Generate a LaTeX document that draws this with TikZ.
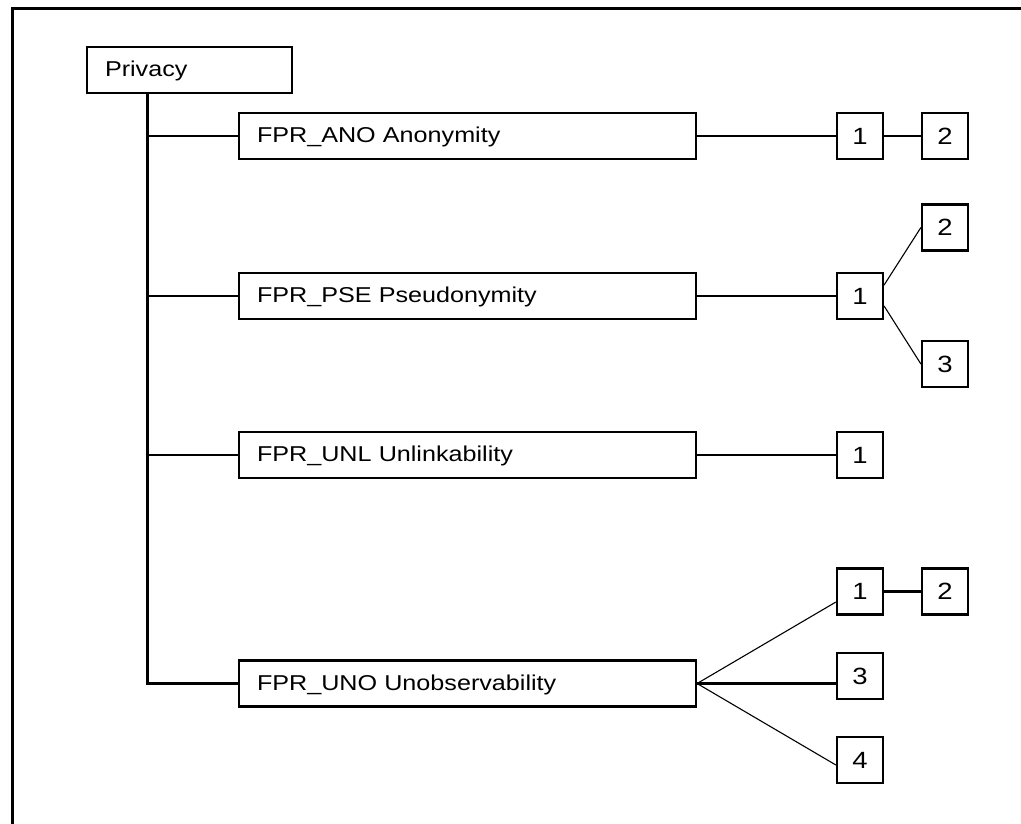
\documentclass[tikz,border=0pt]{standalone}
\usepackage{fontspec}
\setmainfont{Liberation Sans}[FakeStretch=1.17]
\begin{document}
\begin{tikzpicture}[x=1pt,y=-1pt,
  every node/.style={font=\fontsize{21.5}{24}\selectfont},
  bigbox/.style={draw,line width=2.2pt,minimum height=46pt,text width=421pt,text height=13.4pt,text depth=0pt,inner xsep=18pt,inner ysep=0pt,align=left,anchor=center},
  topbox/.style={draw,line width=2.2pt,minimum height=46pt,text width=169pt,text height=13.4pt,text depth=0pt,inner xsep=18pt,inner ysep=0pt,align=left,anchor=center},
  numbox/.style={draw,line width=2.2pt,minimum width=46pt,minimum height=46pt,inner sep=0pt,anchor=center,font=\fontsize{23.5}{26}\selectfont},
  conn/.style={line width=2.2pt},
  thin/.style={line width=1.1pt},
  trunk/.style={line width=3pt}]
\useasboundingbox (0,0) rectangle (1021,823);
\clip (0,0) rectangle (1021,823);
% frame (top and left only)
\draw[line width=3pt] (1030,8.5) -- (12,8.5) -- (12,830);
% root
\node[topbox] (priv) at (189.5,70) {Privacy};
% families
\node[bigbox] (ano) at (467.5,136) {FPR\_ANO Anonymity};
\node[bigbox] (pse) at (467.5,296) {FPR\_PSE Pseudonymity};
\node[bigbox] (unl) at (467.5,455) {FPR\_UNL Unlinkability};
\node[bigbox] (uno) at (467.5,683.5) {FPR\_UNO Unobservability};
% trunk
\coordinate (tTop) at (priv.south -| 147,0);
\coordinate (tEnd) at (147,683.5);
\draw[trunk] (tTop) -- (tEnd);
\coordinate (bANO) at (147,136);
\coordinate (bPSE) at (147,296);
\coordinate (bUNL) at (147,455);
\draw[conn] (bANO) -- (ano.west);
\draw[conn] (bPSE) -- (pse.west);
\draw[conn] (bUNL) -- (unl.west);
\draw[conn] ([xshift=-1.5pt]tEnd) -- (uno.west);
% components
\node[numbox] (a1) at (860,136) {1};
\node[numbox] (a2) at (945,136) {2};
\node[numbox] (p1) at (860,296) {1};
\node[numbox] (p2) at (945,227.5) {2};
\node[numbox] (p3) at (945,364) {3};
\node[numbox] (l1) at (860,455) {1};
\node[numbox] (u1) at (860,591.5) {1};
\node[numbox] (u2) at (945,591.5) {2};
\node[numbox] (u3) at (860,676) {3};
\node[numbox] (u4) at (860,760) {4};
% connectors
\draw[conn] (ano.east) -- (a1.west);
\draw[conn] (a1.east) -- (a2.west);
\draw[conn] (pse.east) -- (p1.west);
\draw[thin] ([yshift=11pt]p1.east) -- (p2.west);
\draw[thin] ([yshift=-10pt]p1.east) -- (p3.west);
\draw[conn] (unl.east) -- (l1.west);
\draw[thin] (uno.east) -- ([yshift=-10.5pt]u1.west);
\draw[conn] (uno.east) -- (u3.west |- uno.east);
\draw[thin] (uno.east) -- ([yshift=-5pt]u4.west);
\draw[conn] (u1.east) -- (u2.west);
\end{tikzpicture}
\end{document}
